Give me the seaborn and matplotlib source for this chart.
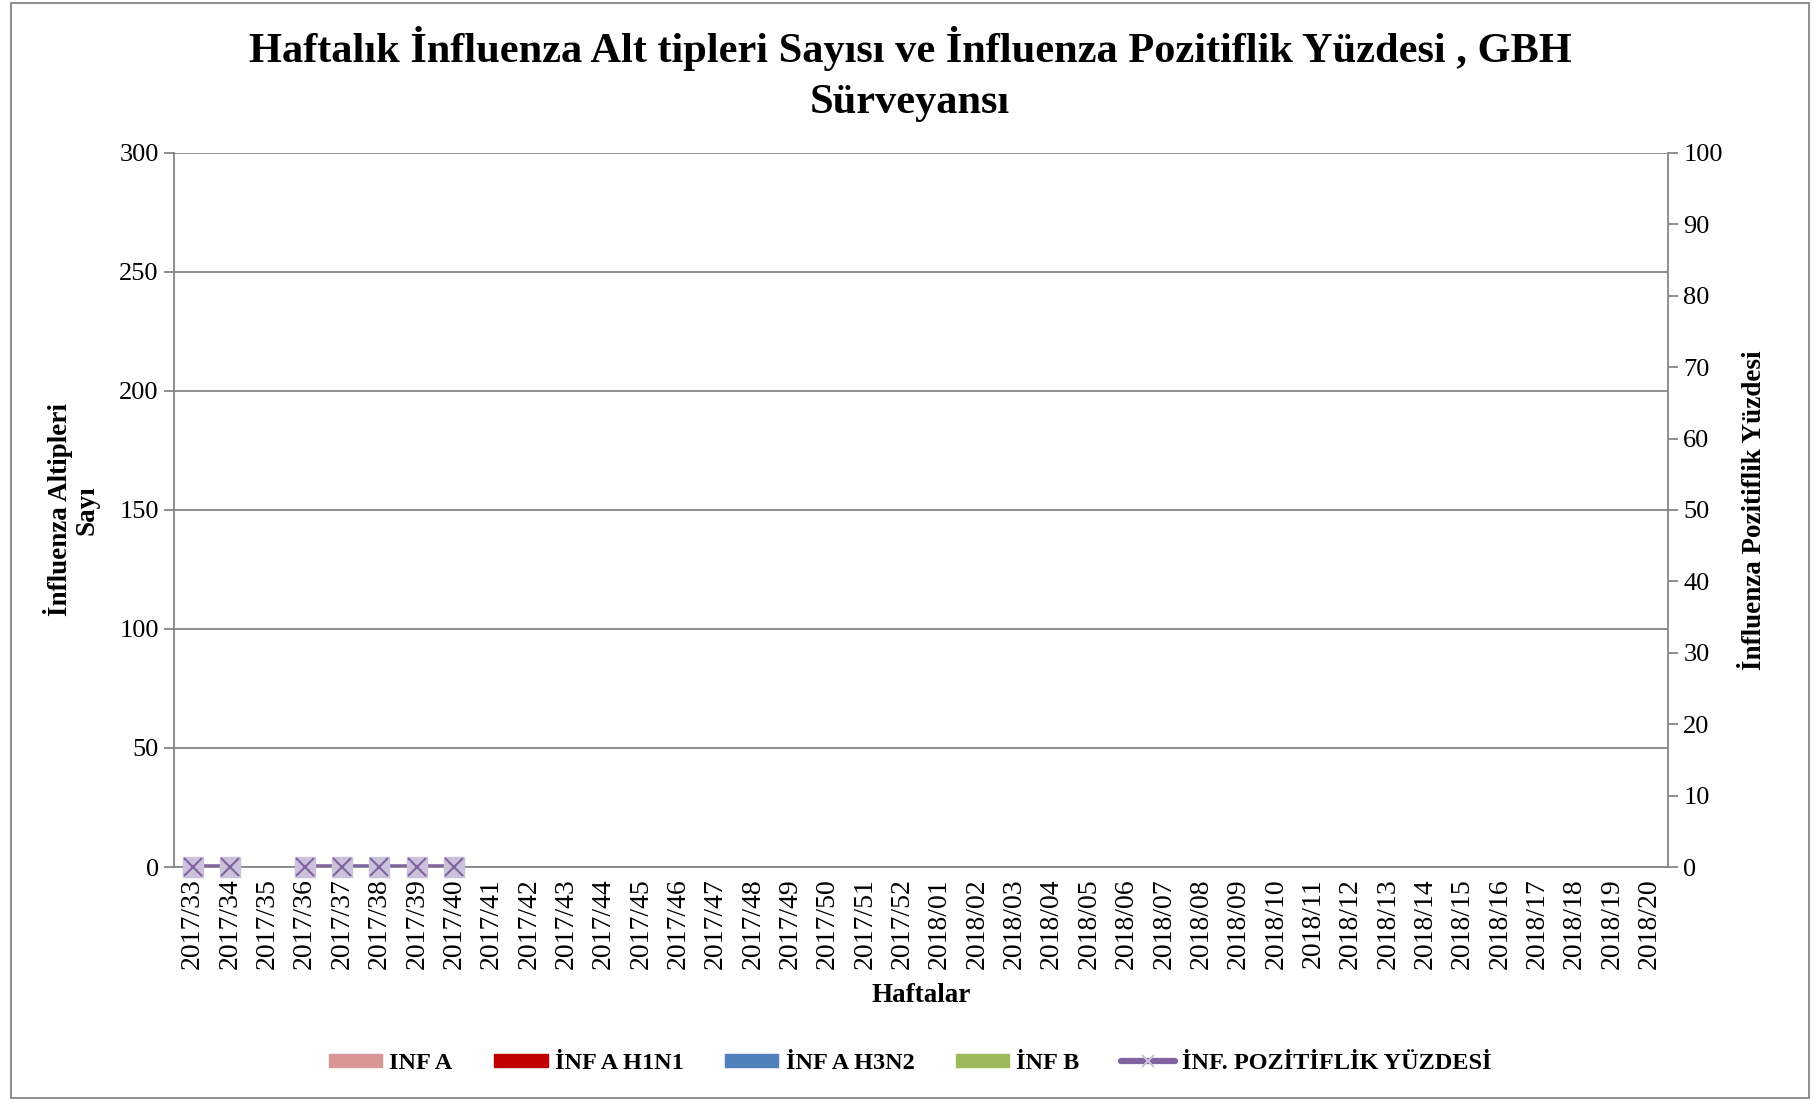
# Weekly influenza subtype counts and positivity percentage, GBH surveillance

import numpy as np
import pandas as pd
import matplotlib.pyplot as plt
import matplotlib.patches as mpatches
from matplotlib.lines import Line2D
import seaborn as sns

weeks = [f"2017/{w}" for w in range(33, 53)] + [f"2018/{w:02d}" for w in range(1, 21)]

# subtype counts (only weeks 33-40 reported, all zero)
inf_a = [0, 0, 0, 0, 0, 0, 0, 0] + [np.nan] * 32
inf_a_h1n1 = [0, 0, 0, 0, 0, 0, 0, 0] + [np.nan] * 32
inf_a_h3n2 = [0, 0, 0, 0, 0, 0, 0, 0] + [np.nan] * 32
inf_b = [0, 0, 0, 0, 0, 0, 0, 0] + [np.nan] * 32

# positivity percentage (week 35 missing)
positivity = [0, 0, np.nan, 0, 0, 0, 0, 0] + [np.nan] * 32

series_names = ["INF A", "İNF A H1N1", "İNF A H3N2", "İNF B"]
series_colors = ["#d99694", "#c00000", "#4f81bd", "#9bbb59"]
line_name = "İNF. POZİTİFLİK YÜZDESİ"

sns.set_style("white", {"text.color": "black", "axes.labelcolor": "black",
                        "xtick.color": "black", "ytick.color": "black"})
plt.rcParams["font.family"] = ["Liberation Serif", "DejaVu Serif"]

df = pd.DataFrame({
    "week": weeks * 4,
    "count": inf_a + inf_a_h1n1 + inf_a_h3n2 + inf_b,
    "type": sum([[n] * len(weeks) for n in series_names], []),
})

fig = plt.figure(figsize=(18.2, 11), dpi=100)
ax = fig.add_axes([0.0956, 0.2118, 0.8209, 0.6492])

sns.barplot(data=df, x="week", y="count", hue="type", order=weeks,
            hue_order=series_names, palette=series_colors, ax=ax,
            legend=False, errorbar=None)

gray = "#868686"
ax.set_ylim(0, 300)
ax.set_yticks(range(0, 301, 50))
ax.yaxis.grid(True, color=gray, linewidth=1.3)
ax.set_axisbelow(True)
ax.set_xlim(-0.5, len(weeks) - 0.5)
ax.set_xticks(range(len(weeks)))
ax.set_xticklabels(weeks, rotation=90)
ax.set_xticks(np.arange(len(weeks) + 1) - 0.5, minor=True)
ax.tick_params(axis="x", which="major", length=0, labelsize=20, pad=8, labelcolor="black")
ax.tick_params(axis="x", which="minor", length=7, color=gray, width=1.3, direction="out")
ax.tick_params(axis="y", length=7, color=gray, width=1.3, labelsize=19, direction="out", pad=4,
               labelcolor="black")
for s in ["left", "bottom", "right"]:
    ax.spines[s].set_color(gray)
    ax.spines[s].set_linewidth(1.3)
ax.spines["top"].set_visible(False)
ax.set_xlabel("Haftalar", fontsize=19.5, fontweight="bold", labelpad=10)
ax.set_ylabel("İnfluenza Altipleri\nSayı", fontsize=19.5, fontweight="bold", labelpad=14,
              linespacing=1.1)

ax2 = ax.twinx()
x = np.arange(len(weeks))
ax2.plot(x, positivity, color="#8064a2", linewidth=4, zorder=3)
ax2.plot(x, positivity, linestyle="none", marker="s", markersize=14,
         markerfacecolor="#ccc1da", markeredgecolor="#ccc1da", zorder=4, clip_on=False)
ax2.plot(x, positivity, linestyle="none", marker="x", markersize=13,
         markeredgecolor="#8064a2", markeredgewidth=1.5, zorder=5, clip_on=False)
ax2.set_ylim(0, 100)
ax2.set_yticks(range(0, 101, 10))
ax2.tick_params(axis="y", length=7, color=gray, width=1.3, labelsize=19, direction="out", pad=4,
                labelcolor="black")
for s in ax2.spines.values():
    s.set_visible(False)
ax2.set_ylabel("İnfluenza Pozitiflik Yüzdesi", fontsize=19.5, fontweight="bold", labelpad=14)

fig.suptitle("Haftalık İnfluenza Alt tipleri Sayısı ve İnfluenza Pozitiflik Yüzdesi , GBH\nSürveyansı",
             fontsize=30.5, fontweight="bold", y=0.976, linespacing=1.45, color="black")

handles = [mpatches.Patch(color=c, label=n) for n, c in zip(series_names, series_colors)]
handles.append(Line2D([0], [0], color="#8064a2", linewidth=4.5, marker="x", markersize=9,
                      markeredgecolor="#ccc1da", markeredgewidth=1.5, label=line_name))
fig.legend(handles=handles, loc="center", bbox_to_anchor=(0.5, 0.033), ncol=5,
           frameon=False, prop={"size": 17.5, "weight": "bold"},
           handlelength=2.2, handleheight=0.5, columnspacing=1.7, handletextpad=0.3)

fig.add_artist(mpatches.Rectangle((0.006, 0.002), 0.988, 0.995, transform=fig.transFigure,
                                  fill=False, edgecolor=gray, linewidth=1.3))

fig.savefig("out.png", dpi=100)
